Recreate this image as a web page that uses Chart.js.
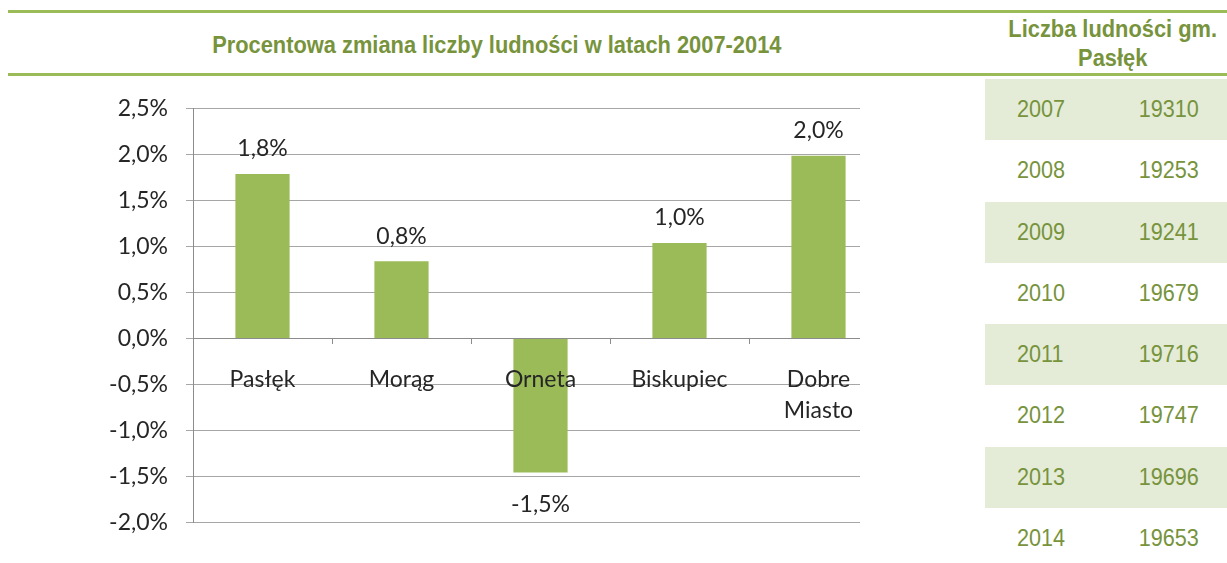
<!DOCTYPE html>
<html>
<head>
<meta charset="utf-8">
<script src="https://cdn.jsdelivr.net/npm/chart.js@4.4.0/dist/chart.umd.min.js"></script>
<style>
  body { margin: 0; width: 1227px; height: 563px; overflow: hidden; background: #fff; position: relative;
         font-family: "Liberation Sans Narrow", "Arial Narrow", "Liberation Sans", Arial, sans-serif; }
  .rule { position: absolute; left: 8px; right: 0; height: 3px; background: #9BBB59; }
  .narrow { display: inline-block; transform: scaleX(0.91); transform-origin: center; }
  #title { position: absolute; left: 8px; width: 978px; top: 31px; text-align: center;
           color: #77933C; font-weight: bold; font-size: 24px; }
  #tableTitle { position: absolute; left: 995px; width: 236px; top: 14px; text-align: center;
                color: #77933C; font-weight: bold; font-size: 24px; line-height: 29px; }
  #rows { position: absolute; left: 985px; top: 79px; width: 242px; }
  .row { height: 61.3px; position: relative; color: #77933C; font-size: 24px; }
  .row.band { background: #E4ECD7; }
  .row span { position: absolute; top: 16px; transform: scaleX(0.9); }
  .row .yr { left: 32px; transform-origin: left; }
  .row .val { right: 28px; transform-origin: right; }
  #wrap { position: absolute; left: 0; top: 77px; width: 860px; height: 477px; overflow: hidden; }
</style>
</head>
<body>
<div class="rule" style="top:10px"></div>
<div class="rule" style="top:73px"></div>
<div id="title"><span class="narrow">Procentowa zmiana liczby ludności w latach 2007-2014</span></div>
<div id="tableTitle"><span class="narrow">Liczba ludności gm.<br>Pasłęk</span></div>
<div id="rows"></div>
<div id="wrap"><canvas id="chart" width="900" height="477"></canvas></div>

<script>
// chart data (percent change 2007-2014)
const towns = ['Pasłęk', 'Morąg', 'Orneta', 'Biskupiec', ['Dobre', 'Miasto']];
const changes = [1.79, 0.84, -1.46, 1.04, 1.99];

// table data
const years = [2007, 2008, 2009, 2010, 2011, 2012, 2013, 2014];
const population = [19310, 19253, 19241, 19679, 19716, 19747, 19696, 19653];

// build table rows
const rowsEl = document.getElementById('rows');
years.forEach((y, i) => {
    const row = document.createElement('div');
    row.className = 'row' + (i % 2 === 0 ? ' band' : '');
    row.innerHTML = `<span class="yr">${y}</span><span class="val">${population[i]}</span>`;
    rowsEl.appendChild(row);
});

const fmt = v => v.toFixed(1).replace('.', ',') + '%';
const tickFont = { family: 'Lato, "Open Sans", sans-serif', size: 23 };

// value labels above / below bars
const valueLabels = {
    id: 'valueLabels',
    afterDatasetsDraw(chart) {
        const ctx = chart.ctx;
        const meta = chart.getDatasetMeta(0);
        ctx.save();
        ctx.font = `${tickFont.size}px ${tickFont.family}`;
        ctx.fillStyle = '#262626';
        ctx.textAlign = 'center';
        ctx.textBaseline = 'middle';
        meta.data.forEach((bar, i) => {
            const v = changes[i];
            const y = v >= 0 ? bar.y - 25 : bar.y + 32;
            ctx.fillText(fmt(v), bar.x, y);
        });
        ctx.restore();
    }
};

const ctx = document.getElementById('chart').getContext('2d');
new Chart(ctx, {
    type: 'bar',
    data: {
        labels: towns,
        datasets: [{
            data: changes,
            backgroundColor: '#9BBB59',
            categoryPercentage: 1,
            barPercentage: 0.39
        }]
    },
    options: {
        responsive: false,
        animation: false,
        layout: { padding: { left: 0, right: 12, top: 5, bottom: 25 } },
        plugins: { legend: { display: false }, tooltip: { enabled: false } },
        scales: {
            x: {
                position: { y: 0 },
                grid: { offset: true, drawOnChartArea: false, tickLength: 5, color: '#8C8C8C' },
                border: { color: '#8C8C8C' },
                ticks: { z: 1, color: '#262626', font: { ...tickFont, lineHeight: 1.35 }, padding: 21, maxRotation: 0 }
            },
            y: {
                min: -2,
                max: 2.5,
                afterFit(scale) { scale.width = 193; },
                grid: { color: '#A6A6A6', tickLength: 7 },
                border: { color: '#8C8C8C' },
                ticks: { stepSize: 0.5, color: '#262626', font: tickFont, padding: 18, callback: v => fmt(v) }
            }
        }
    },
    plugins: [valueLabels]
});
</script>
</body>
</html>
